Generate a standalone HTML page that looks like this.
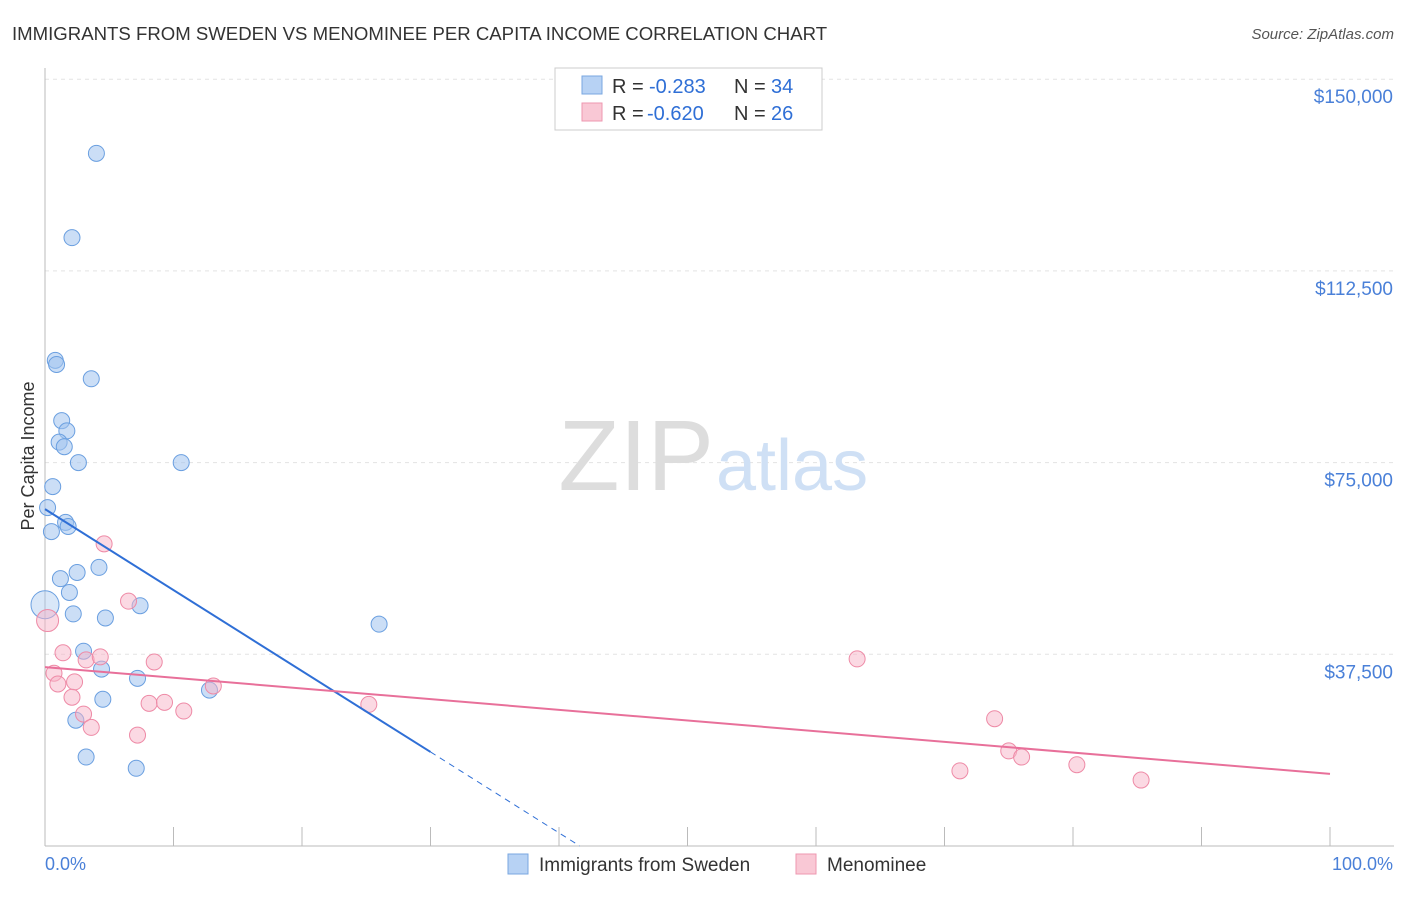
<!DOCTYPE html>
<html><head><meta charset="utf-8"><style>
body{margin:0;background:#fff;font-family:"Liberation Sans",sans-serif;}
svg text{font-family:"Liberation Sans",sans-serif;}
</style></head><body>
<svg id="c" width="1406" height="892">
<text x="12" y="40" font-size="18.6" fill="#333">IMMIGRANTS FROM SWEDEN VS MENOMINEE PER CAPITA INCOME CORRELATION CHART</text>
<text x="1394" y="39" font-size="15" fill="#555" text-anchor="end" font-style="italic">Source: ZipAtlas.com</text>
<text x="34" y="456" font-size="18" fill="#333" text-anchor="middle" transform="rotate(-90 34 456)">Per Capita Income</text>
<g id="grid"></g>
<text x="714" y="490" font-size="100" fill="#ddd" text-anchor="end" font-family="Liberation Serif">ZIP</text>
<text x="716" y="490" font-size="72" fill="#cfe0f5">atlas</text>
<g id="pts"></g>
<g>
<rect x="555" y="68" width="267" height="62" fill="#fff" stroke="#ccc"/>
<rect x="582" y="76" width="20" height="18" fill="#b7d2f4" stroke="#7aa7e0"/>
<text x="612" y="93" font-size="20" fill="#333">R =</text>
<text x="649" y="93" font-size="20" fill="#2f6fd6">-0.283</text>
<text x="734" y="93" font-size="20" fill="#333">N =</text>
<text x="771" y="93" font-size="20" fill="#2f6fd6">34</text>
<rect x="582" y="103" width="20" height="18" fill="#f9c8d5" stroke="#ee97b0"/>
<text x="612" y="120" font-size="20" fill="#333">R =</text>
<text x="647" y="120" font-size="20" fill="#2f6fd6">-0.620</text>
<text x="734" y="120" font-size="20" fill="#333">N =</text>
<text x="771" y="120" font-size="20" fill="#2f6fd6">26</text>
</g>
<g>
<rect x="508" y="854" width="20" height="20" fill="#b7d2f4" stroke="#7aa7e0"/>
<text x="539" y="871" font-size="19" fill="#333">Immigrants from Sweden</text>
<rect x="796" y="854" width="20" height="20" fill="#f9c8d5" stroke="#ee97b0"/>
<text x="827" y="871" font-size="19" fill="#333">Menominee</text>
</g>
<text x="45" y="870" font-size="18" fill="#4a80d8">0.0%</text>
<text x="1393" y="870" font-size="18" fill="#4a80d8" text-anchor="end">100.0%</text>
</svg>
<script>
const yTicks=[37500,75000,112500,150000];
const yTickLabels=["$37,500","$75,000","$112,500","$150,000"];
const swedenX=[4.0,2.1,0.8,0.9,3.6,1.3,1.7,1.1,1.5,2.6,10.6,0.6,0.2,1.6,1.8,0.5,4.2,2.5,1.2,1.9,7.4,0.0,2.2,4.7,26.0,3.0,4.4,7.2,12.8,4.5,2.4,3.2,7.1];
const swedenY=[135500,119000,95000,94200,91400,83200,81200,79000,78100,75000,75000,70300,66200,63300,62500,61500,54500,53500,52300,49600,47000,47200,45400,44600,43400,38100,34600,32800,30500,28700,24600,17400,15200];
const menX=[0.2,1.4,4.6,6.5,0.7,1.0,3.2,4.3,8.5,2.3,2.1,13.1,8.1,9.3,3.0,10.8,3.6,7.2,25.2,63.2,73.9,75.0,76.0,71.2,80.3,85.3];
const menY=[44100,37800,59100,47900,33800,31700,36400,37000,36000,32100,29100,31300,27900,28100,25800,26400,23200,21700,27700,36600,24900,18600,17400,14700,15900,12900];
const blueLine=[0,65900,30,18400];
const pinkLine=[0,35000,100,14100];
const X=p=>45+p*12.85, Y=v=>846-v/37500*191.7;
const ns="http://www.w3.org/2000/svg";
function mk(tag,attrs,parent){const e=document.createElementNS(ns,tag);for(const k in attrs)e.setAttribute(k,attrs[k]);parent.appendChild(e);return e;}
const grid=document.getElementById('grid'), pts=document.getElementById('pts');
yTicks.forEach((t,i)=>{
 const l=mk('line',{x1:45,x2:1394,y1:Y(t),y2:Y(t),stroke:'#e3e3e3','stroke-dasharray':'4,4'},grid);
 
 
 const tx=mk('text',{x:1393,y:Y(t)+24,'font-size':19,fill:'#4a80d8','text-anchor':'end'},grid);
 tx.textContent=yTickLabels[i];
 
 
});
mk('line',{x1:45,x2:45,y1:68,y2:846,stroke:'#bbb'},grid);
mk('line',{x1:45,x2:1394,y1:846,y2:846,stroke:'#bbb'},grid);
for(let i=0;i<=10;i++){const t=mk('line',{x1:X(i*10),x2:X(i*10),y1:827,y2:846,stroke:'#bbb'},grid);
 
 }
swedenX.forEach((x,i)=>{const c=mk('circle',{cx:X(x),cy:Y(swedenY[i]),r:x===0?14:8,fill:x===0?'rgba(160,195,238,0.4)':'rgba(160,195,238,0.55)',stroke:'#6a9fe0','stroke-width':1},pts);
 
 });
menX.forEach((x,i)=>{const c=mk('circle',{cx:X(x),cy:Y(menY[i]),r:i===0?11:8,fill:'rgba(247,180,200,0.5)',stroke:'#ee8aa6','stroke-width':1},pts);
 
 });
const bs=(blueLine[3]-blueLine[1])/(blueLine[2]-blueLine[0]);
const bl=mk('line',{x1:X(0),y1:Y(blueLine[1]),x2:X(blueLine[2]),y2:Y(blueLine[3]),stroke:'#2f6fd6','stroke-width':2},pts);


const xz=-blueLine[1]/bs;
const bd=mk('line',{x1:X(blueLine[2]),y1:Y(blueLine[3]),x2:X(xz),y2:Y(0),stroke:'#2f6fd6','stroke-width':1,'stroke-dasharray':'6,5'},pts);


const pl=mk('line',{x1:X(pinkLine[0]),y1:Y(pinkLine[1]),x2:X(pinkLine[2]),y2:Y(pinkLine[3]),stroke:'#e8709a','stroke-width':2},pts);


</script>
</body></html>
